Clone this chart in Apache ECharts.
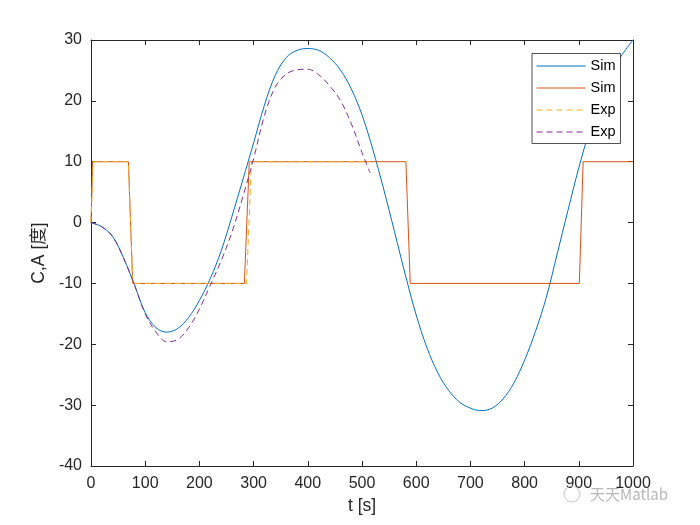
<!DOCTYPE html>
<html>
<head>
<meta charset="utf-8">
<script src="https://cdn.jsdelivr.net/npm/echarts@6/dist/echarts.min.js"></script>
<style>html,body{margin:0;padding:0;background:#fff;}#c{width:700px;height:525px;}</style>
</head>
<body>
<div id="c"></div>
<script>
// ---- data ----
var tSimC = [0,20,40,60,80,100,120,140,160,180,200,220,240,260,280,300,320,340,360,380,400,420,440,460,480,500,520,540,560,580,600,620,640,660,680,700,720,740,760,780,800,820,840,860,880,900,920,940,960,980,1000];
var cSim  = [0,-0.7,-2.3,-5.8,-10.2,-14.8,-17.3,-18,-17.4,-15.6,-12.8,-9.2,-4.7,1,7,13.1,19.3,24.2,27.1,28.3,28.6,28.3,27.1,25.1,22,17.7,12,5.5,-1.5,-8.6,-15.2,-20.6,-24.7,-27.6,-29.5,-30.5,-30.9,-30.5,-29,-26.4,-22.6,-17.9,-12.3,-5.2,2,9,15.2,20.5,24.7,27.6,30];

var tSimA = [0,3,69,77,283,292,581,589,901,908,1000];
var aSim  = [0,10,10,-10,-10,10,10,-10,-10,10,10];

var tExpA = [0,4,69,77,287,296,515];
var aExp  = [0,10,10,-10,-10,10,10];

var tExpC = [0,20,40,60,80,100,120,140,160,180,200,220,240,260,280,300,320,340,360,380,400,420,440,460,480,500,515];
var cExp  = [0,-0.7,-2.3,-5.8,-10.2,-15,-18,-19.6,-19.2,-17.3,-14.2,-10.3,-6.3,-1.6,4.2,10.5,17.6,22.3,24.4,25.1,25.2,24.3,22.5,20.1,16.3,11.5,8.2];

var seriesNames = ['Sim1','Sim2','Exp1','Exp2'];
var seriesColors = ['#0072BD','#D95319','#EDB120','#7E2F8E'];
var xTicksMin = 0, xTicksMax = 1000, xStep = 100;
var yTicksMin = -40, yTicksMax = 30, yStep = 10;

function zip(t, v){ return t.map(function(x,i){ return [x, v[i]]; }); }

var FONT = "'Liberation Sans', Arial, Helvetica, sans-serif";
var AX = '#262626';
var DASH = [6,4];

var chart = echarts.init(document.getElementById('c'), null, {renderer:'canvas'});
var baseAxis = {
  axisLine:{show:true, onZero:false, lineStyle:{color:AX, width:1}},
  axisTick:{show:true, inside:true, length:5, lineStyle:{color:AX}},
  splitLine:{show:false}
};
chart.setOption({
  animation:false,
  backgroundColor:'#fff',
  grid:{left:91, right:67, top:40, bottom:59, containLabel:false},
  xAxis:[
    Object.assign({}, baseAxis, {type:'value', min:xTicksMin, max:xTicksMax, interval:xStep, position:'bottom',
      axisLabel:{color:AX, fontSize:16, fontFamily:FONT, margin:10, formatter:function(v){return String(v);}},
      name:'t [s]', nameLocation:'middle', nameGap:26,
      nameTextStyle:{color:AX, fontSize:17.5, fontFamily:FONT}}),
    Object.assign({}, baseAxis, {type:'value', min:xTicksMin, max:xTicksMax, interval:xStep, position:'top',
      axisLabel:{show:false}})
  ],
  yAxis:[
    Object.assign({}, baseAxis, {type:'value', min:yTicksMin, max:yTicksMax, interval:yStep, position:'left',
      axisLabel:{color:AX, fontSize:16, fontFamily:FONT, margin:9, formatter:function(v){return String(v);}},
      name:'C,A [度]', nameLocation:'middle', nameGap:37, nameRotate:90,
      nameTextStyle:{color:AX, fontSize:17.5, fontFamily:"'Liberation Sans', Arial, 'Noto Sans CJK SC', sans-serif"}}),
    Object.assign({}, baseAxis, {type:'value', min:yTicksMin, max:yTicksMax, interval:yStep, position:'right',
      axisLabel:{show:false}})
  ],
  legend:{
    orient:'vertical', left:532, top:53.5,
    data:seriesNames,
    formatter:function(n){ return n.slice(0,3); },
    itemWidth:49, itemHeight:14, itemGap:7,
    padding:[5,5,4,4],
    itemStyle:{opacity:0},
    lineStyle:{width:1, color:'inherit', type:'inherit', opacity:'inherit'},
    backgroundColor:'#fff', borderColor:AX, borderWidth:0.8, borderRadius:0,
    textStyle:{color:'#000', fontSize:14.5, fontFamily:FONT}
  },
  graphic:[
    {type:'text', left:590, top:487, z:100,
     style:{text:'天天Matlab', fill:'#b8b8b8', font:"15px 'Noto Sans CJK SC', sans-serif"}},
    {type:'circle', shape:{cx:572, cy:494, r:8}, z:100,
     style:{fill:'none', stroke:'#cfcfcf', lineWidth:1.2}}
  ],
  series:[
    {name:'Sim1', type:'line', data:zip(tSimC,cSim), symbol:'none', smooth:0.35, color:seriesColors[0],
     lineStyle:{color:seriesColors[0], width:1}, itemStyle:{color:seriesColors[0]}},
    {name:'Sim2', type:'line', data:zip(tSimA,aSim), symbol:'none', color:seriesColors[1],
     lineStyle:{color:seriesColors[1], width:1}, itemStyle:{color:seriesColors[1]}},
    {name:'Exp1', type:'line', data:zip(tExpA,aExp), symbol:'none', color:seriesColors[2],
     lineStyle:{color:seriesColors[2], width:1, type:DASH}, itemStyle:{color:seriesColors[2]}},
    {name:'Exp2', type:'line', data:zip(tExpC,cExp), symbol:'none', smooth:0.35, color:seriesColors[3],
     lineStyle:{color:seriesColors[3], width:1, type:DASH}, itemStyle:{color:seriesColors[3]}}
  ]
});
</script>
</body>
</html>
